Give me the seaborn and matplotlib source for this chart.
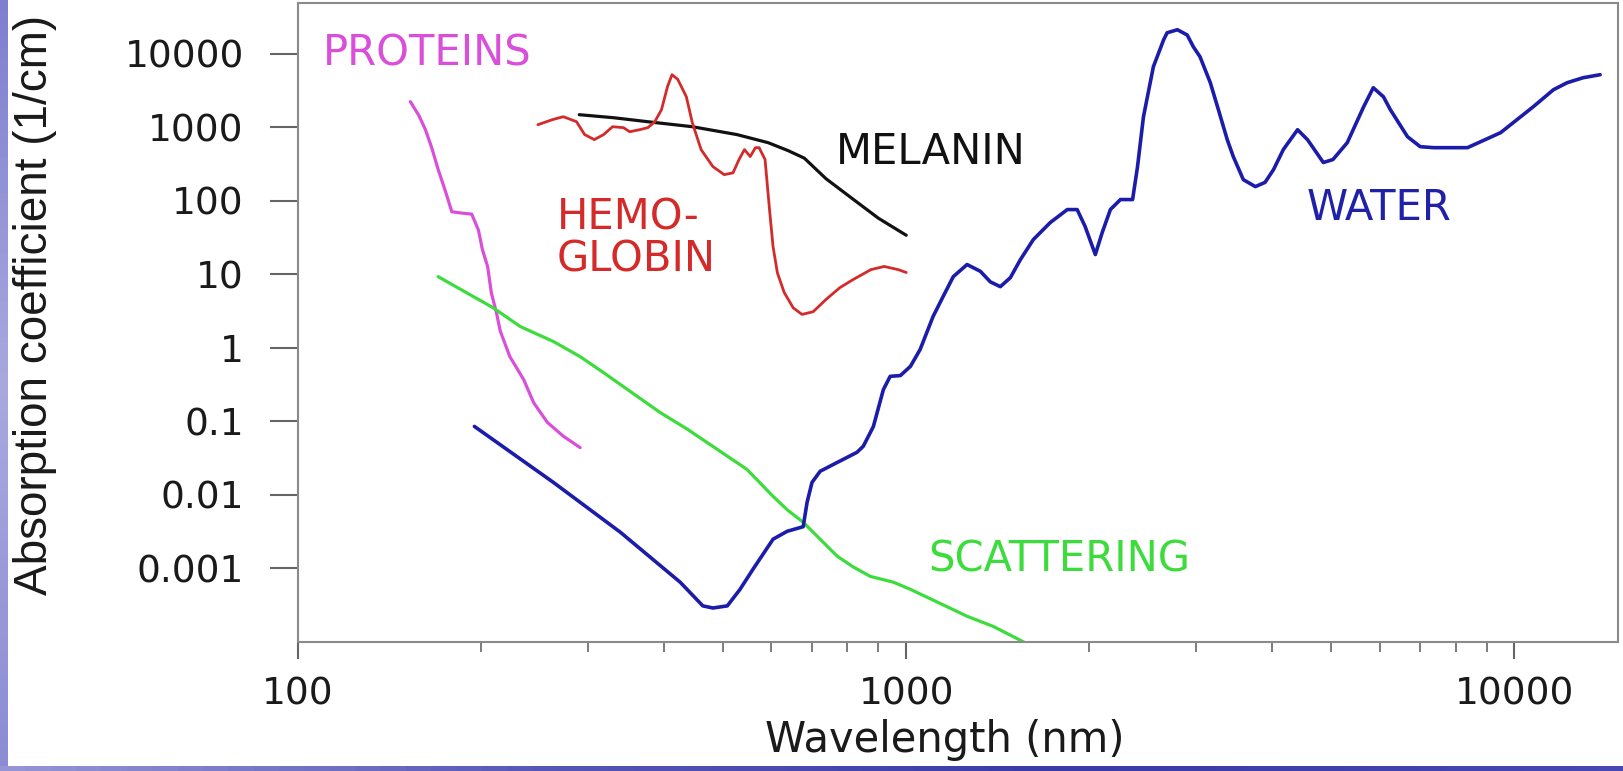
import numpy as np
import matplotlib
matplotlib.use("Agg")
import matplotlib.pyplot as plt
import seaborn as sns
from matplotlib import ticker
from matplotlib.font_manager import findfont, FontProperties
from matplotlib.colors import LinearSegmentedColormap

sns.set_theme(style="white")
plt.rcParams['font.family'] = ['DejaVu Sans']

# wavelength (nm) / absorption coefficient (1/cm)
prot_lam = [153, 158, 162, 166, 170, 175, 179, 186, 193, 198, 201, 205, 208, 212, 215, 223, 235, 244, 257, 273, 291]
prot_mu = [2230, 1450, 927, 520, 266, 130, 71, 68, 66, 40, 21.7, 12.8, 5.5, 3.0, 1.7, 0.76, 0.37, 0.18, 0.097, 0.063, 0.044]

mel_lam = [290, 330, 376, 445, 527, 593, 640, 680, 738, 818, 900, 1000]
mel_mu = [1483, 1350, 1190, 1018, 795, 617, 480, 380, 200, 105, 58, 34]

hb_lam = [248, 262, 273, 287, 296, 307, 318, 329, 343, 351, 364, 376, 386, 396, 405, 412, 421, 435, 445,
          460, 481, 502, 519, 531, 542, 554, 565, 573, 586, 596, 604, 614, 630, 652, 674, 703, 738, 778,
          818, 875, 920, 970, 1000]
hb_mu = [1084, 1270, 1393, 1192, 795, 680, 795, 1018, 988, 870, 925, 988, 1190, 1740, 3560, 5190, 4500,
         2600, 1150, 497, 292, 227, 240, 364, 497, 400, 528, 528, 364, 76, 23.9, 10.5, 5.67, 3.5, 2.85,
         3.1, 4.55, 6.6, 8.5, 11.6, 12.8, 11.6, 10.6]

sca_lam = [170, 209, 232, 263, 291, 318, 348, 394, 437, 481, 547, 604, 637, 677, 770, 818, 873, 953, 1016,
           1150, 1259, 1390, 1560]
sca_mu = [9.3, 3.54, 1.95, 1.22, 0.76, 0.46, 0.272, 0.132, 0.078, 0.0457, 0.0223, 0.00957, 0.0063, 0.00425,
          0.00147, 0.00105, 0.00078, 0.00065, 0.00052, 0.00032, 0.000224, 0.000163, 0.0001]

wat_lam = [195, 263, 339, 425, 463, 481, 508, 533, 560, 604, 637, 677, 687, 700, 722, 759, 830, 850, 883,
           917, 941, 978, 1016, 1054, 1107, 1150, 1195, 1259, 1324, 1375, 1428, 1483, 1541, 1618, 1725,
           1840, 1910, 1968, 2046, 2100, 2166, 2250, 2356, 2400, 2455, 2549, 2650, 2685, 2792, 2897, 2966,
           3041, 3162, 3260, 3372, 3450, 3583, 3750, 3890, 4016, 4170, 4400, 4570, 4850, 5030, 5310, 5650,
           5860, 6090, 6250, 6670, 7000, 7360, 8370, 9490, 10740, 11590, 12210, 12970, 13830]
wat_mu = [0.0855, 0.0148, 0.0031, 0.00065, 0.00031, 0.00029, 0.00031, 0.00052, 0.00098, 0.0025, 0.0032,
          0.0037, 0.0079, 0.0148, 0.021, 0.026, 0.038, 0.046, 0.085, 0.27, 0.41, 0.42, 0.56, 0.95, 2.67,
          5.0, 9.3, 13.6, 11, 7.9, 6.8, 9, 15.9, 29.7, 50.6, 76, 76, 45, 18.6, 37, 76, 104, 104, 288,
          1390, 6670, 15500, 19300, 21200, 18000, 12400, 9100, 4040, 1740, 676, 398, 194, 156, 178, 265,
          500, 927, 676, 332, 364, 617, 1900, 3450, 2600, 1740, 745, 545, 528, 528, 845, 1905, 3240, 4040,
          4720, 5190]

y_ticks = [0.001, 0.01, 0.1, 1, 10, 100, 1000, 10000]
y_labels = ['0.001', '0.01', '0.1', '1', '10', '100', '1000', '10000']
x_ticks = [100, 1000, 10000]
x_labels = ['100', '1000', '10000']

fig = plt.figure(figsize=(16.23, 7.71), dpi=100)
fig.patch.set_facecolor('white')

# slide background strips
strip_l = fig.add_axes([0, 0, 8 / 1623, 1])
strip_l.imshow(np.linspace(0, 1, 64).reshape(-1, 1), aspect='auto',
               cmap=LinearSegmentedColormap.from_list('l', ['#7f7fcf', '#a9a9e0', '#8c8cd4']))
strip_l.axis('off')
strip_b = fig.add_axes([0, 0, 1, 5 / 771])
strip_b.imshow(np.linspace(0, 1, 64).reshape(1, -1), aspect='auto',
               cmap=LinearSegmentedColormap.from_list('b', ['#9494d6', '#5656b8', '#3a3aa8', '#4848b4']))
strip_b.axis('off')

ax = fig.add_axes([298 / 1623, 129 / 771, 1320 / 1623, 639 / 771])

sns.lineplot(x=prot_lam, y=prot_mu, ax=ax, color='#d94fd9', lw=2.3, sort=False, estimator=None)
sns.lineplot(x=mel_lam, y=mel_mu, ax=ax, color='#111111', lw=2.3, sort=False, estimator=None)
sns.lineplot(x=hb_lam, y=hb_mu, ax=ax, color='#d42a2a', lw=2.0, sort=False, estimator=None)
sns.lineplot(x=sca_lam, y=sca_mu, ax=ax, color='#3ddc3d', lw=2.3, sort=False, estimator=None)
sns.lineplot(x=wat_lam, y=wat_mu, ax=ax, color='#1c1caa', lw=2.6, sort=False, estimator=None)
for ln in ax.lines:
    ln.set_solid_joinstyle('round')

ax.set_xscale('log')
ax.set_yscale('log')
ax.set_xlim(100, 14800)
ax.set_ylim(1e-4, 4.9e4)

ax.yaxis.set_major_locator(ticker.FixedLocator(y_ticks))
ax.yaxis.set_major_formatter(ticker.FixedFormatter(y_labels))
ax.yaxis.set_minor_locator(ticker.NullLocator())
ax.xaxis.set_major_locator(ticker.FixedLocator(x_ticks))
ax.xaxis.set_major_formatter(ticker.FixedFormatter(x_labels))
ax.xaxis.set_minor_locator(ticker.LogLocator(base=10, subs=range(2, 10)))
ax.xaxis.set_minor_formatter(ticker.NullFormatter())

ax.tick_params(axis='y', which='major', left=True, length=20, width=1.5, color='#666666',
               pad=19, labelsize=27, labelcolor='#1a1a1a', direction='out')
ax.tick_params(axis='x', which='major', bottom=True, length=12, width=1.5, color='#666666',
               pad=13, labelsize=27, labelcolor='#1a1a1a', direction='out')
ax.tick_params(axis='x', which='minor', bottom=True, length=7, width=1.2, color='#666666', direction='out')

for sp in ax.spines.values():
    sp.set_visible(True)
    sp.set_color('#8a8a8a')
    sp.set_linewidth(1.5)

try:
    findfont(FontProperties(family='Liberation Sans Narrow'), fallback_to_default=False)
    ylab_font, ylab_size = 'Liberation Sans Narrow', 40
except ValueError:
    ylab_font, ylab_size = 'Liberation Sans', 33

ax.set_ylabel('Absorption coefficient (1/cm)', fontsize=ylab_size, family=[ylab_font, 'DejaVu Sans'],
              color='#1a1a1a', va='center')
ax.yaxis.set_label_coords(-0.199, 0.527)
ax.set_xlabel('Wavelength (nm)', fontsize=30, color='#1a1a1a', va='center')
ax.xaxis.set_label_coords(0.49, -0.153)

lab = dict(fontsize=30, va='center', ha='left')
ax.text(110, 10000, 'PROTEINS', color='#d94fd9', **lab)
ax.text(767, 466, 'MELANIN', color='#111111', **lab)
ax.text(266, 30.6, 'HEMO-\nGLOBIN', color='#d42a2a', linespacing=1.0, **lab)
ax.text(4550, 81, 'WATER', color='#2020a8', **lab)
ax.text(1087, 0.00133, 'SCATTERING', color='#3ddc3d', **lab)

fig.savefig('out.png', dpi=100, facecolor='white')
